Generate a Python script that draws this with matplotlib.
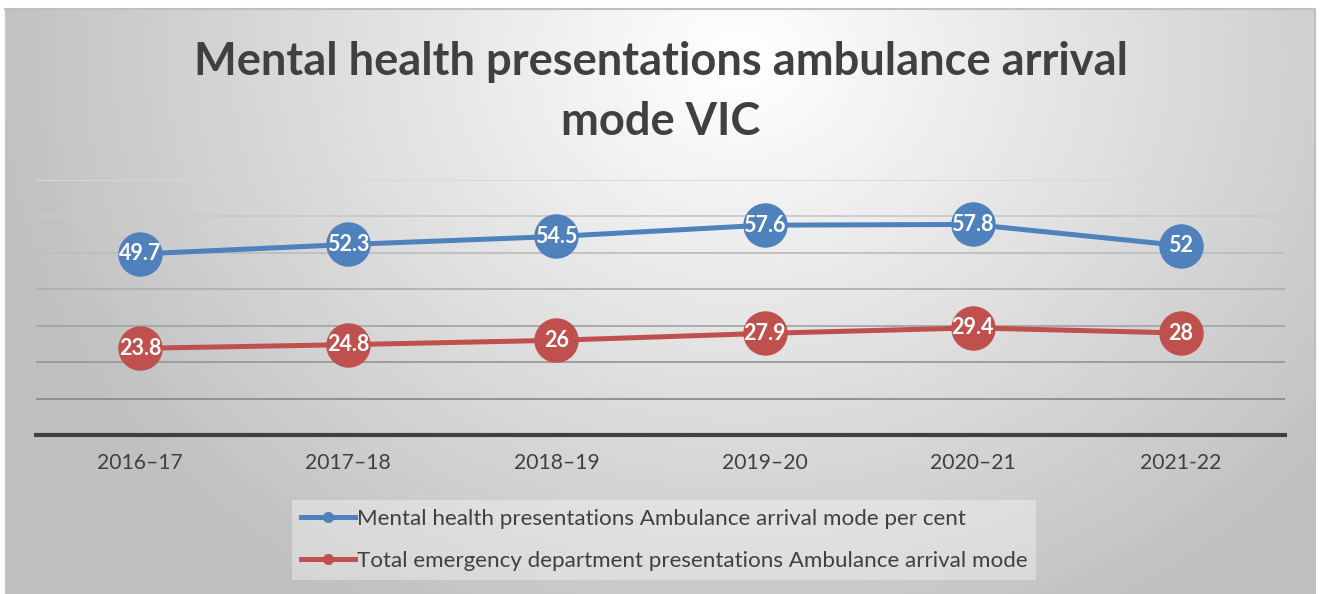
import numpy as np
import matplotlib
matplotlib.use('Agg')
import matplotlib.pyplot as plt
from matplotlib.lines import Line2D

plt.rcParams['font.family'] = ['Lato', 'DejaVu Sans']

# ---- Data
years = ['2016–17', '2017–18', '2018–19', '2019–20', '2020–21', '2021-22']
mental_health = [49.7, 52.3, 54.5, 57.6, 57.8, 52]
total_ed = [23.8, 24.8, 26, 27.9, 29.4, 28]
series_names = ['Mental health presentations Ambulance arrival mode per cent',
                'Total emergency department presentations Ambulance arrival mode']

BLUE = '#4f81bd'
RED = '#c0504d'
DARK = '#404040'

W, H = 1322, 594
fig = plt.figure(figsize=(W / 100, H / 100), dpi=100)

# ---- Background: radial grey gradient inside the chart box
bg = fig.add_axes([0, 0, 1, 1], zorder=-5)
bg.set_xlim(0, W)
bg.set_ylim(H, 0)
bg.axis('off')
x0, y0, x1, y1 = 5, 9, 1315, H
xx, yy = np.meshgrid(np.arange(x0, x1), np.arange(y0, y1))
d = np.sqrt(((xx - 740) / 760.0) ** 2 + ((yy - 60) / 640.0) ** 2)
shade = 1 - 0.25 * np.clip(d, 0, 1)
bg.imshow(shade, cmap='gray', vmin=0, vmax=1, extent=[x0, x1, y1, y0],
          aspect='auto', interpolation='bilinear')
bg.plot([x0, x1, x1], [y0, y0, y1], color='#bfbfbf', lw=1.5)
bg.plot([x0, x0], [y0, y1], color='#c8c8c8', lw=1)

# ---- Title
fig.text(661 / W, 1 - 92 / H, 'Mental health presentations ambulance arrival\nmode VIC',
         ha='center', va='center', fontsize=32.6, fontweight='bold', color=DARK,
         linespacing=1.52)

# ---- Plot
ax = fig.add_axes([36 / W, 1 - 435 / H, (1285 - 36) / W, (435 - 180) / H])
ax.patch.set_alpha(0)
x = np.arange(len(years))
ax.set_xlim(-0.5, len(years) - 0.5)
ax.set_ylim(0, 70)

grid_vals = np.arange(10, 80, 10)
grid_cols = plt.cm.gray(np.linspace(0.55, 0.84, len(grid_vals)))
for g, c in zip(grid_vals, grid_cols):
    ax.axhline(g, color=c, lw=1.3, zorder=0)

for s in ['top', 'right', 'left']:
    ax.spines[s].set_visible(False)
ax.spines['bottom'].set_color(DARK)
ax.spines['bottom'].set_linewidth(3)
ax.set_yticks([])
ax.set_xticks(x)
ax.set_xticklabels(years, fontsize=15.2, color=DARK)
ax.tick_params(axis='x', length=0, pad=13)

for vals, col in [(mental_health, BLUE), (total_ed, RED)]:
    ax.plot(x, vals, color=col, lw=3.6, marker='o', markersize=32,
            markeredgewidth=0, zorder=3, clip_on=False)
    for xi, v in zip(x, vals):
        ax.text(xi, v, '{:g}'.format(v), ha='center', va='center', color='white',
                fontsize=15.5, fontweight='bold', zorder=4)

# ---- Legend
handles = [Line2D([], [], color=c, lw=3.6, marker='o', markersize=7) for c in (BLUE, RED)]
leg = fig.legend(handles, series_names, loc='center left',
                 bbox_to_anchor=(292 / W, 1 - 540 / H), fontsize=16.1,
                 frameon=True, facecolor='white', framealpha=0.35, edgecolor='none',
                 fancybox=False, handlelength=2.4, handletextpad=0.1,
                 labelspacing=1.0, borderpad=0.4, borderaxespad=0)
for t in leg.get_texts():
    t.set_color(DARK)

fig.savefig('out.png', dpi=100)
